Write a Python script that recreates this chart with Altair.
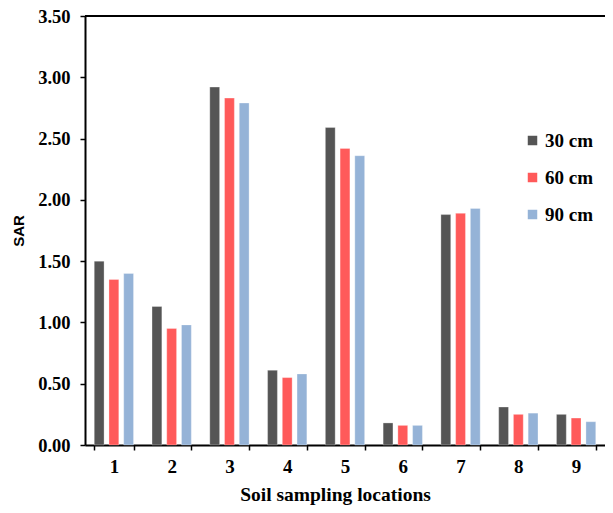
import altair as alt
import pandas as pd

locations = ["1", "2", "3", "4", "5", "6", "7", "8", "9"]
depths = ["30 cm", "60 cm", "90 cm"]
sar_30 = [1.50, 1.13, 2.92, 0.61, 2.59, 0.18, 1.88, 0.31, 0.25]
sar_60 = [1.35, 0.95, 2.83, 0.55, 2.42, 0.16, 1.89, 0.25, 0.22]
sar_90 = [1.40, 0.98, 2.79, 0.58, 2.36, 0.16, 1.93, 0.26, 0.19]
colors = ["#555555", "#FF5A5A", "#95B3D7"]

rows = []
for d, vals in zip(depths, [sar_30, sar_60, sar_90]):
    for loc, v in zip(locations, vals):
        rows.append({"loc": loc, "depth": d, "sar": v})
df = pd.DataFrame(rows)

W, H = 520, 429
serif = "Liberation Serif"

bars = alt.Chart(df).mark_bar(stroke="white", strokeWidth=0.5, strokeOpacity=0.6).encode(
    x=alt.X("loc:N", sort=locations,
            scale=alt.Scale(paddingInner=0.32, paddingOuter=0.16),
            axis=alt.Axis(title="Soil sampling locations", labelAngle=0, tickBand="extent",
                          labelFont=serif, labelFontWeight="bold", labelFontSize=19,
                          labelColor="black", labelPadding=7,
                          titleFont=serif, titleFontWeight="bold", titleFontSize=19.5,
                          titleColor="black", titlePadding=9, titleX=250,
                          domainColor="black", domainWidth=2, tickColor="black",
                          tickWidth=1.5, tickSize=5, grid=False)),
    xOffset=alt.XOffset("depth:N", sort=depths,
                        scale=alt.Scale(paddingInner=0.333, paddingOuter=0)),
    y=alt.Y("sar:Q", scale=alt.Scale(domain=[0, 3.5], nice=False),
            axis=alt.Axis(title="SAR", values=[0, 0.5, 1, 1.5, 2, 2.5, 3, 3.5], format=".2f",
                          labelFont=serif, labelFontWeight="bold", labelFontSize=18.5,
                          labelColor="black", labelPadding=10,
                          titleFont="Liberation Sans", titleFontWeight="bold", titleFontSize=15,
                          titleColor="black", titlePadding=11,
                          domainColor="black", domainWidth=2, tickColor="black",
                          tickWidth=1.5, tickSize=5, grid=False)),
    color=alt.Color("depth:N", sort=depths,
                    scale=alt.Scale(domain=depths, range=colors),
                    legend=alt.Legend(title=None, orient="none", legendX=438, legendY=115,
                                      symbolType="square", symbolSize=90, symbolStrokeWidth=0,
                                      labelFont=serif, labelFontWeight="bold", labelFontSize=19,
                                      labelColor="black", rowPadding=17, labelOffset=3)),
)

top = alt.Chart(pd.DataFrame({"y": [3.5]})).mark_rule(color="black", strokeWidth=2).encode(
    y=alt.Y("y:Q"), x=alt.value(0), x2=alt.value(W)
)

chart = alt.layer(bars, top).properties(
    width=W, height=H,
    autosize=alt.AutoSizeParams(type="none"),
    padding={"left": 77, "top": 8, "right": 0, "bottom": 64},
).configure_view(stroke=None)

chart.save("out.html", embed_options={"renderer": "svg", "actions": False})
